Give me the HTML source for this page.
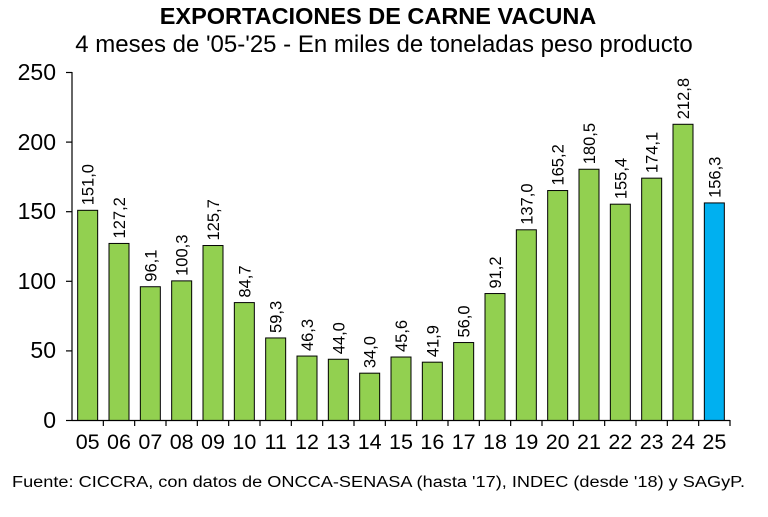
<!DOCTYPE html>
<html><head><meta charset="utf-8"><style>body{margin:0;background:#fff}</style></head><body>
<svg width="768" height="512" xmlns="http://www.w3.org/2000/svg" font-family="Liberation Sans, Arial, sans-serif">
<text x="378" y="24" text-anchor="middle" font-size="23.5" font-weight="bold">EXPORTACIONES DE CARNE VACUNA</text>
<text x="384" y="52" text-anchor="middle" font-size="24">4 meses de '05-'25 - En miles de toneladas peso producto</text>
<g id="bars"></g>
<line x1="72" y1="72" x2="72" y2="421" stroke="#000" stroke-width="1.2"/>
<line x1="72" y1="420.5" x2="730" y2="420.5" stroke="#000" stroke-width="1.2"/>
<g font-size="23" text-anchor="end">
<text x="56" y="428">0</text><text x="56" y="358">50</text><text x="56" y="289">100</text><text x="56" y="219">150</text><text x="56" y="150">200</text><text x="56" y="80">250</text>
</g>
<g stroke="#000" stroke-width="1.2">
<line x1="66" y1="420.5" x2="72" y2="420.5"/><line x1="66" y1="350.9" x2="72" y2="350.9"/><line x1="66" y1="281.3" x2="72" y2="281.3"/><line x1="66" y1="211.7" x2="72" y2="211.7"/><line x1="66" y1="142.1" x2="72" y2="142.1"/><line x1="66" y1="72.5" x2="72" y2="72.5"/>
</g>
<g id="ticks" stroke="#000" stroke-width="1.2"></g>
<g id="xl" font-size="21.5" text-anchor="middle"></g>
<text x="12" y="487" font-size="15.5" textLength="733" lengthAdjust="spacingAndGlyphs">Fuente: CICCRA, con datos de ONCCA-SENASA (hasta '17), INDEC (desde '18) y SAGyP.</text>
<script>
(function(){
var v=[151.0,127.2,96.1,100.3,125.7,84.7,59.3,46.3,44.0,34.0,45.6,41.9,56.0,91.2,137.0,165.2,180.5,155.4,174.1,212.8,156.3];
var ns="http://www.w3.org/2000/svg",w=(730-72)/21,b=document.getElementById("bars"),t=document.getElementById("ticks"),xl=document.getElementById("xl");
function el(n,a,p,txt){var e=document.createElementNS(ns,n);for(var k in a)e.setAttribute(k,a[k]);if(txt)e.textContent=txt;p.appendChild(e);}
for(var i=0;i<21;i++){var cx=72+w*(i+0.5),h=v[i]*348/250,yt=420.5-h;
el("rect",{x:cx-10,y:yt,width:20,height:h,fill:i==20?"#00b0f0":"#92d050",stroke:"#000","stroke-width":1},b);
el("text",{x:0,y:0,"font-size":16.5,transform:"translate("+(cx+6)+","+(yt-5)+") rotate(-90)"},b,v[i].toFixed(1).replace(".",","));
el("line",{x1:72+w*(i+1),y1:420,x2:72+w*(i+1),y2:426},t);
el("text",{x:cx,y:449},xl,String(i+5).padStart(2,"0"));}
})();
</script>
</svg>
</body></html>
